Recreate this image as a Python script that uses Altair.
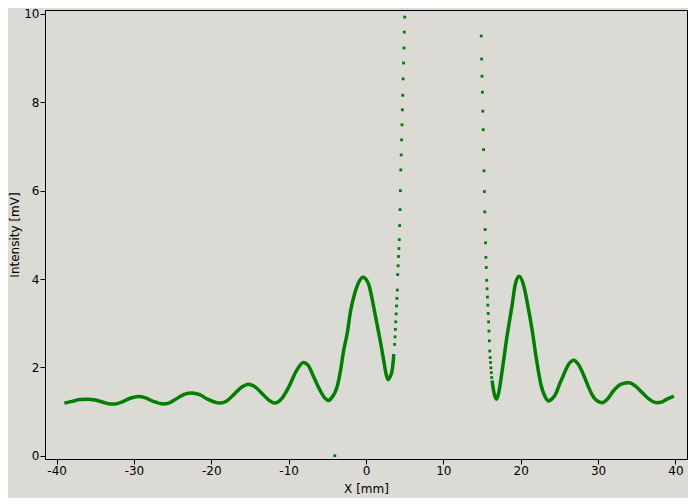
import altair as alt
import pandas as pd

# Smooth left branch of the curve (x in mm, intensity in mV)
left_x = [-39.0, -38.0, -37.0, -36.0, -35.0, -34.0, -33.0, -32.5, -31.5, -30.5,
          -29.4, -28.5, -27.5, -26.2, -25.5, -24.5, -23.5, -22.5, -21.5, -20.5,
          -19.5, -18.9, -18.0, -17.0, -16.0, -15.2, -14.5, -13.5, -12.5, -11.8,
          -11.0, -10.0, -9.0, -8.1, -7.5, -6.8, -6.0, -5.3, -4.8, -4.5,
          -3.7, -3.3, -2.9, -2.4, -2.0, -1.5, -1.1, -0.4, 0.1, 0.4,
          1.0, 1.6, 2.0, 2.3, 2.6, 2.85, 3.1, 3.4, 3.6]
left_y = [1.19, 1.23, 1.27, 1.28, 1.26, 1.21, 1.17, 1.17, 1.22, 1.30,
          1.34, 1.31, 1.23, 1.17, 1.19, 1.29, 1.39, 1.42, 1.38, 1.28,
          1.21, 1.19, 1.24, 1.40, 1.56, 1.62, 1.58, 1.42, 1.25, 1.19,
          1.27, 1.55, 1.92, 2.11, 2.05, 1.80, 1.50, 1.30, 1.25, 1.30,
          1.58, 1.92, 2.37, 2.80, 3.27, 3.65, 3.86, 4.04, 3.97, 3.85,
          3.36, 2.82, 2.45, 2.14, 1.85, 1.72, 1.78, 1.95, 2.30]

# Smooth right branch
right_x = [16.30, 16.55, 16.85, 17.1, 17.6, 18.2, 18.9, 19.3, 19.8, 20.4,
           20.9, 21.5, 22.0, 22.6, 23.2, 23.6, 24.0, 24.5, 25.1, 25.4,
           26.2, 26.85, 27.4, 28.1, 28.7, 29.2, 29.8, 30.5, 31.2, 32.0,
           33.0, 34.0, 34.8, 35.7, 36.6, 37.6, 38.3, 38.9, 39.8]
right_y = [1.70, 1.42, 1.28, 1.38, 1.92, 2.67, 3.42, 3.88, 4.06, 3.84,
           3.42, 2.82, 2.22, 1.62, 1.32, 1.24, 1.28, 1.39, 1.65, 1.77,
           2.07, 2.16, 2.08, 1.84, 1.58, 1.39, 1.25, 1.20, 1.28, 1.47,
           1.62, 1.65, 1.58, 1.43, 1.28, 1.20, 1.22, 1.28, 1.35]

# Steep flanks, where the samples appear as separate dots
steep_left_x = [3.70, 3.75, 3.80, 3.85, 3.90, 3.95, 4.00, 4.05, 4.10, 4.15,
                4.20, 4.25, 4.30, 4.35, 4.40, 4.45, 4.50, 4.55, 4.60, 4.65,
                4.70, 4.75, 4.80, 4.85, 4.90, 4.95, 5.00]
steep_left_y = [2.52, 2.69, 2.86, 3.03, 3.21, 3.39, 3.56, 3.75, 4.10, 4.30,
                4.51, 4.69, 4.89, 5.21, 5.57, 6.00, 6.47, 6.81, 7.15, 7.49,
                7.83, 8.16, 8.53, 8.89, 9.23, 9.59, 9.93]
steep_right_x = [14.90, 14.95, 15.00, 15.05, 15.10, 15.15, 15.20, 15.25, 15.30, 15.35,
                 15.40, 15.45, 15.50, 15.55, 15.60, 15.65, 15.70, 15.75, 15.80, 15.85,
                 15.90, 15.95, 16.00, 16.05, 16.10, 16.15, 16.20, 16.25]
steep_right_y = [9.50, 8.98, 8.59, 8.23, 7.80, 7.38, 6.93, 6.45, 5.98, 5.52,
                 5.12, 4.82, 4.49, 4.26, 3.97, 3.78, 3.59, 3.41, 3.22, 3.03,
                 2.82, 2.60, 2.37, 2.22, 2.11, 1.99, 1.88, 1.77]
stray_x = [-4.03]
stray_y = [0.0]

x_ticks = [-40, -30, -20, -10, 0, 10, 20, 30, 40]
y_ticks = [0, 2, 4, 6, 8, 10]

line_df = pd.concat([
    pd.DataFrame({"x": left_x, "y": left_y, "seg": "left"}),
    pd.DataFrame({"x": right_x, "y": right_y, "seg": "right"}),
], ignore_index=True)
dots_df = pd.DataFrame({
    "x": steep_left_x + steep_right_x + stray_x,
    "y": steep_left_y + steep_right_y + stray_y,
})

GREEN = "#008000"
BG = "#dcdad5"

xs = alt.Scale(domain=[-41.5, 41.5], nice=False, zero=False)
ys = alt.Scale(domain=[-0.075, 10.09], nice=False, zero=False)
xa = alt.Axis(values=x_ticks, title="X [mm]", labelExpr="toString(datum.value)",
              labelPadding=1, titlePadding=7)
ya = alt.Axis(values=y_ticks, title="Intensity [mV]", labelExpr="toString(datum.value)",
              labelPadding=1, titlePadding=2)

lines = alt.Chart(line_df).mark_line(
    color=GREEN, strokeWidth=3.5, interpolate="monotone", clip=True
).encode(
    x=alt.X("x:Q", scale=xs, axis=xa),
    y=alt.Y("y:Q", scale=ys, axis=ya),
    detail="seg:N",
)

dots = alt.Chart(dots_df).mark_square(
    color=GREEN, size=8, opacity=1, clip=True
).encode(
    x=alt.X("x:Q", scale=xs),
    y=alt.Y("y:Q", scale=ys),
)

chart = alt.layer(lines, dots).properties(
    width=642, height=449,
    autosize="none",
    padding={"left": 37, "top": 2, "right": 1, "bottom": 39},
    background=BG,
).configure_view(
    stroke="black", strokeWidth=1, fill=BG
).configure_axis(
    domainColor="black", tickColor="black", labelColor="black", titleColor="black",
    labelFont="DejaVu Sans", titleFont="DejaVu Sans",
    labelFontSize=12, titleFontSize=12, titleFontWeight="normal",
    grid=False, tickSize=5,
)

chart.save("out.html", embed_options={"renderer": "svg", "actions": False})
